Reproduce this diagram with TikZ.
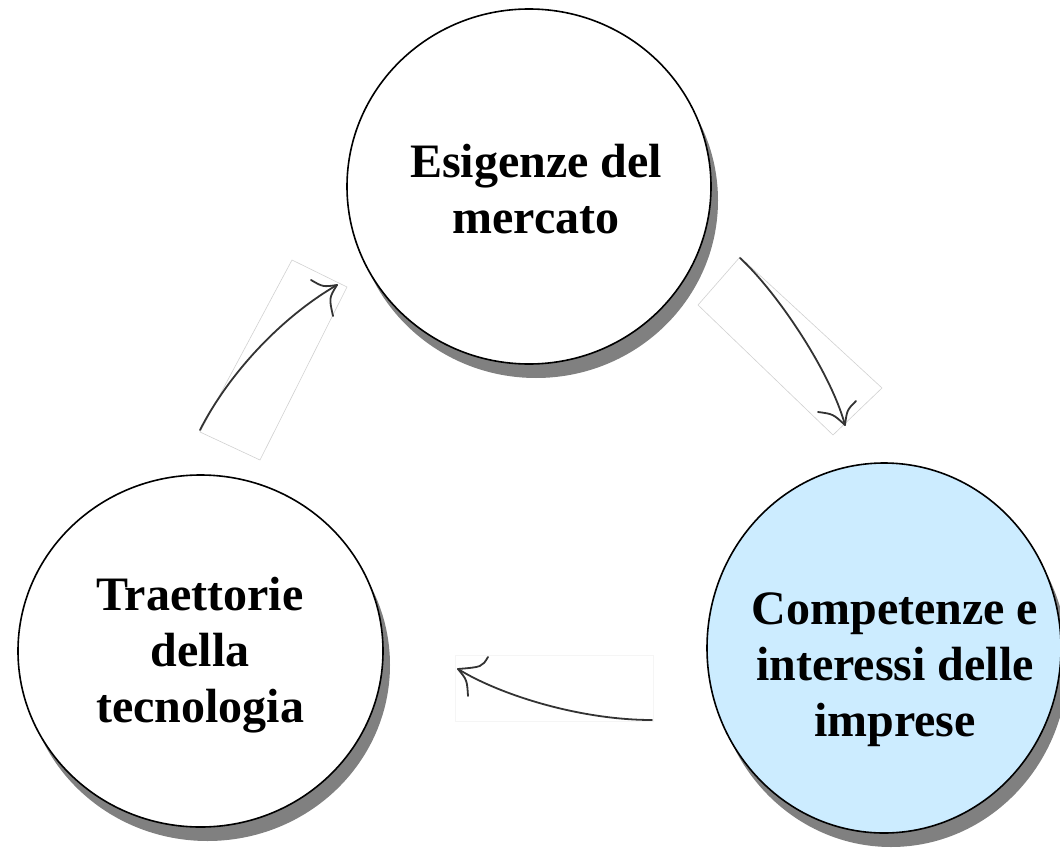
\documentclass[tikz,border=0pt]{standalone}
\usepackage{fontspec}
\setmainfont{Liberation Serif}
\usetikzlibrary{shapes.geometric,shadows}
\definecolor{lightblue}{HTML}{CCECFF}
\definecolor{shadowgray}{HTML}{808080}
\definecolor{pen}{HTML}{333333}
\tikzset{
  bubble/.style={ellipse, draw=black, line width=1.6pt, inner sep=0pt,
    drop shadow={shadow xshift=7pt, shadow yshift=-14pt, fill=shadowgray, opacity=1}},
  bubbletext/.style={align=center, font=\fontsize{48}{56}\selectfont\bfseries, inner sep=0pt},
  sketch/.style={draw=pen, line width=1.8pt, line cap=round},
  frame/.style={draw=black!18, line width=0.6pt},
  faintframe/.style={draw=black!4, line width=0.6pt}
}
\begin{document}
\begin{tikzpicture}[x=1pt, y=-1pt]
\useasboundingbox (0,0) rectangle (1060,848);
% circles
\node[bubble, fill=white, minimum width=364pt, minimum height=355pt] (mkt) at (529,186.5) {};
\node[bubble, fill=white, minimum width=365pt, minimum height=352pt] (tec) at (200.5,651) {};
\node[bubble, fill=lightblue, minimum width=354pt, minimum height=370pt] (imp) at (884,648) {};
% texts
\node[bubbletext] (mktT) at (536,189) {Esigenze del\\mercato};
\node[bubbletext] (tecT) at (200,655) {Traettorie\\della\\tecnologia};
\node[bubbletext] (impT) at (895,670) {Competenze e\\interessi delle\\imprese};
% faint frames of the pasted arrows
\coordinate (f1a) at (200,432); \coordinate (f1b) at (292,260);
\coordinate (f1c) at (347,287); \coordinate (f1d) at (260,460);
\draw[frame] (f1a) -- (f1b) -- (f1c) -- (f1d) -- cycle;
\coordinate (f2a) at (740,257); \coordinate (f2b) at (882,388);
\coordinate (f2c) at (833,435); \coordinate (f2d) at (698,305);
\draw[frame] (f2a) -- (f2b) -- (f2c) -- (f2d) -- cycle;
\coordinate (f3a) at (455,655); \coordinate (f3b) at (653,721);
\draw[faintframe] (f3a) rectangle (f3b);
% arrow 1: tecnologia -> mercato
\coordinate (a1s) at (200,430); \coordinate (a1e) at (337,285);
\draw[sketch] (a1s) .. controls (228,375) and (280,318) .. (a1e);
\coordinate (a1b1) at (311,280); \coordinate (a1b2) at (333,316);
\draw[sketch] (a1b1) .. controls (323,287) .. (a1e);
\draw[sketch] (a1b2) .. controls (329,298) .. (a1e);
% arrow 2: mercato -> imprese
\coordinate (a2s) at (740,258); \coordinate (a2e) at (845,425);
\draw[sketch] (a2s) .. controls (775,290) and (830,370) .. (a2e);
\coordinate (a2b1) at (818,412); \coordinate (a2b2) at (856,401);
\draw[sketch] (a2b1) .. controls (833,414) .. (a2e);
\draw[sketch] (a2b2) .. controls (847,410) .. (a2e);
% arrow 3: imprese -> tecnologia
\coordinate (a3s) at (652,720); \coordinate (a3e) at (458,669);
\draw[sketch] (a3s) .. controls (580,720) and (500,695) .. (a3e);
\coordinate (a3b1) at (488,657); \coordinate (a3b2) at (468,696);
\draw[sketch] (a3b1) .. controls (482,667) .. (a3e);
\draw[sketch] (a3b2) .. controls (467,680) .. (a3e);
\end{tikzpicture}
\end{document}
